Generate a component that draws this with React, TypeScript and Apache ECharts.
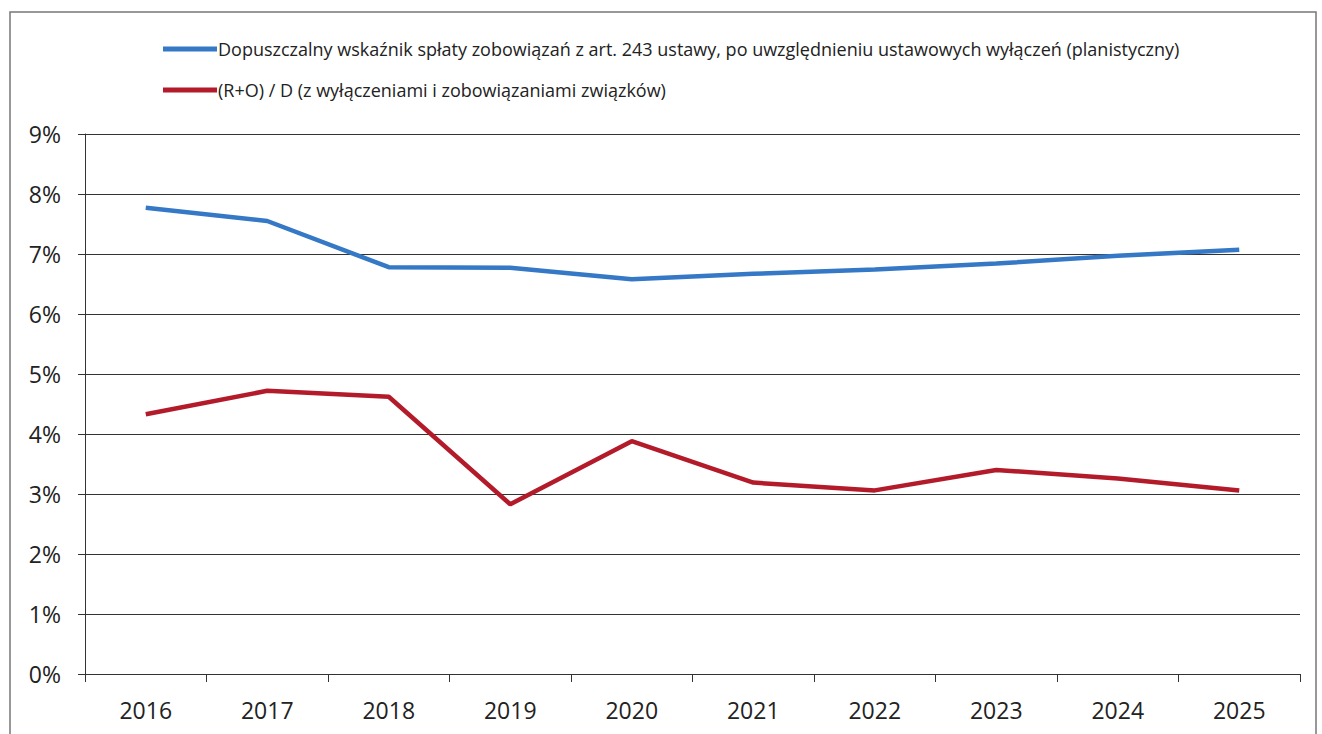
import React, { useEffect, useRef } from "react";
import * as echarts from "echarts";

const years = ["2016", "2017", "2018", "2019", "2020", "2021", "2022", "2023", "2024", "2025"];
const limitSeries = [7.77, 7.55, 6.78, 6.77, 6.58, 6.67, 6.74, 6.84, 6.97, 7.07];
const ratioSeries = [4.33, 4.72, 4.62, 2.83, 3.88, 3.19, 3.06, 3.4, 3.26, 3.06];
const seriesNames = [
  "Dopuszczalny wskaźnik spłaty zobowiązań z art. 243 ustawy, po uwzględnieniu ustawowych wyłączeń (planistyczny)",
  "(R+O) / D (z wyłączeniami i zobowiązaniami związków)",
];

export default function App() {
  const ref = useRef<HTMLDivElement>(null);
  useEffect(() => {
    if (!ref.current) return;
    const chart = echarts.init(ref.current, null, { renderer: "svg" });
    chart.setOption({
      animation: false,
      backgroundColor: "#ffffff",
      textStyle: { fontFamily: "'Open Sans', 'Liberation Sans', sans-serif" },
      graphic: [
        {
          type: "rect",
          shape: { x: 10, y: 12, width: 1306, height: 740 },
          style: { fill: "none", stroke: "#777", lineWidth: 1.5 },
          silent: true,
        },
      ],
      legend: {
        orient: "vertical",
        left: 158,
        top: 33,
        itemGap: 19,
        itemWidth: 54,
        itemHeight: 5,
        icon: "rect",
        textStyle: { fontSize: 18, color: "#222", lineHeight: 22, padding: [0, 0, 0, -4] },
        data: seriesNames,
      },
      grid: { left: 85, right: 22, top: 134, bottom: 60, containLabel: false },
      xAxis: {
        type: "category",
        data: years,
        boundaryGap: true,
        axisLine: { show: true, lineStyle: { color: "#333", width: 1 } },
        axisTick: { show: true, length: 8, lineStyle: { color: "#333" } },
        axisLabel: { fontSize: 23, color: "#222", margin: 24 },
      },
      yAxis: {
        type: "value",
        min: 0,
        max: 9,
        interval: 1,
        axisLine: { show: true, lineStyle: { color: "#333", width: 1 } },
        axisTick: { show: true, length: 7, lineStyle: { color: "#333" } },
        axisLabel: { fontSize: 23, color: "#222", margin: 24, formatter: (v: number) => `${v}%` },
        splitLine: { show: true, lineStyle: { color: "#333", width: 1 } },
      },
      series: [
        {
          name: seriesNames[0],
          type: "line",
          data: limitSeries,
          showSymbol: false,
          symbol: "none",
          lineStyle: { color: "#3478c6", width: 4.5 },
          itemStyle: { color: "#3478c6" },
        },
        {
          name: seriesNames[1],
          type: "line",
          data: ratioSeries,
          showSymbol: false,
          symbol: "none",
          lineStyle: { color: "#b31b2a", width: 4.5 },
          itemStyle: { color: "#b31b2a" },
        },
      ],
    });
    return () => chart.dispose();
  }, []);
  return (
    <div
      ref={ref}
      style={{ position: "fixed", left: 0, top: 0, width: 1322, height: 734 }}
    />
  );
}
